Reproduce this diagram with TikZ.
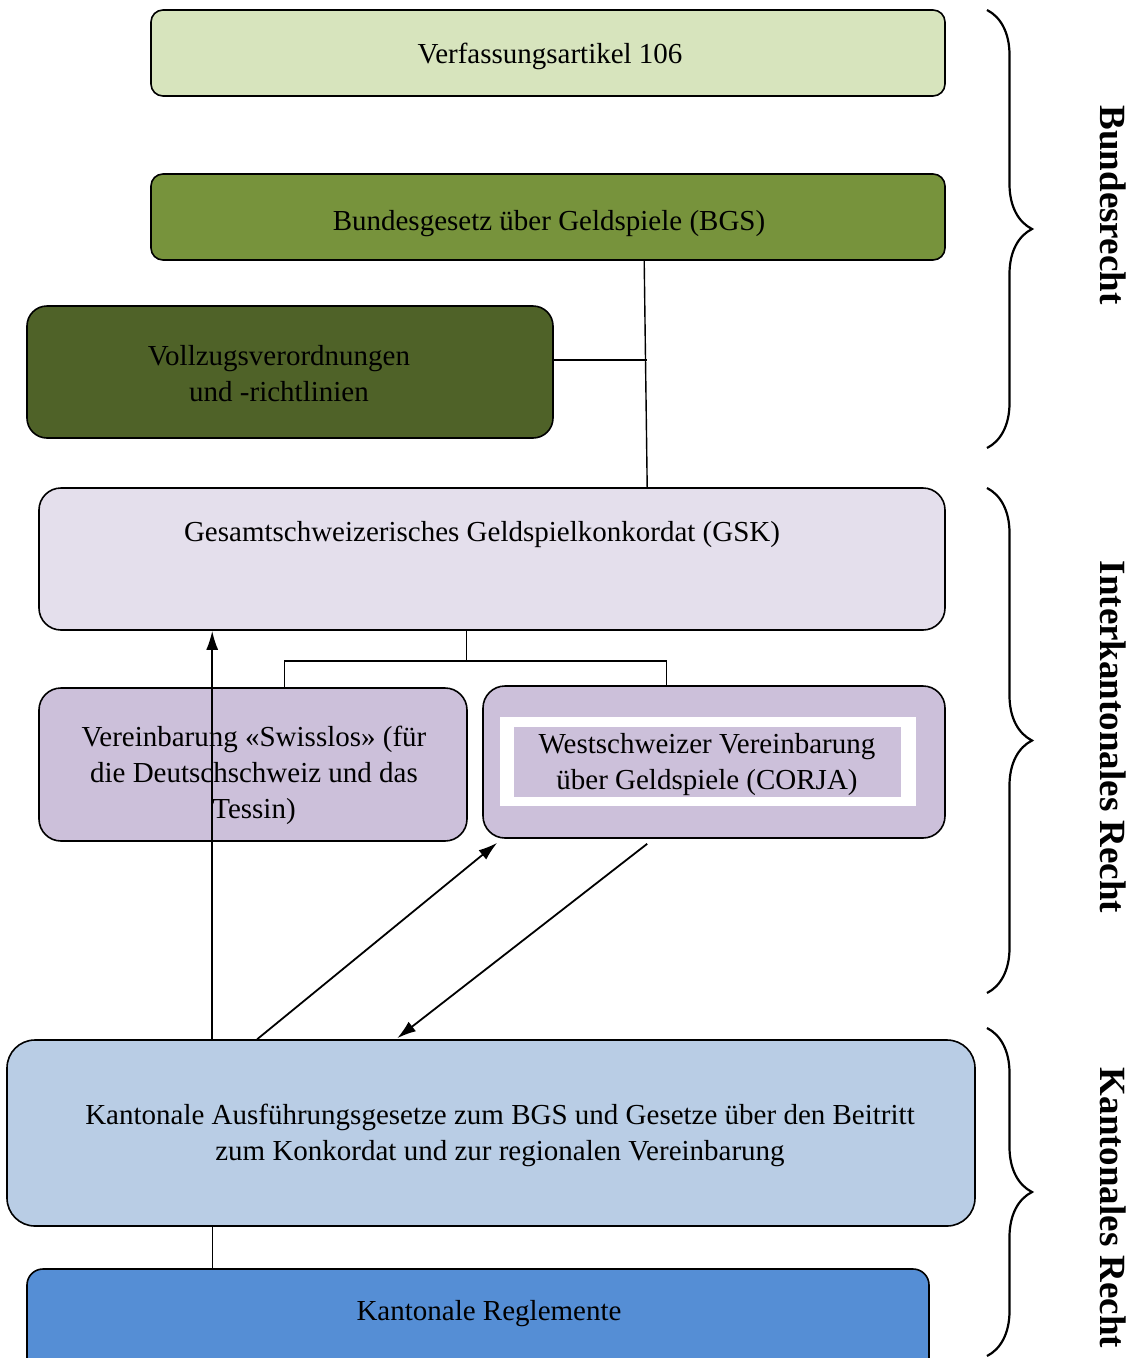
\documentclass[tikz,border=0pt]{standalone}
\usepackage{fontspec}
\setmainfont{Liberation Serif}
\usetikzlibrary{arrows.meta,decorations.pathreplacing,calc}
\definecolor{cVerf}{HTML}{D7E4BD}
\definecolor{cBGS}{HTML}{77933C}
\definecolor{cVoll}{HTML}{4F6228}
\definecolor{cGSK}{HTML}{E4DFEC}
\definecolor{cPurp}{HTML}{CCC0DA}
\definecolor{cKant}{HTML}{B9CDE5}
\definecolor{cRegl}{HTML}{558ED5}
\begin{document}
\begin{tikzpicture}[x=1pt,y=-1pt,
  box/.style={draw=black,line width=1.6pt,rectangle,inner sep=0pt},
  txt/.style={font=\fontsize{29}{36}\selectfont,align=center,inner sep=0pt,text=black,yshift=-3pt},
  side/.style={font=\fontsize{37}{40}\selectfont\bfseries,rotate=-90,inner sep=0pt},
  conn/.style={draw=black,line width=1.4pt},
  arr/.style={draw=black,line width=1.8pt,-{Latex[length=19pt,width=12pt]}},
  bracestyle/.style={draw=black,line width=2.2pt,decorate,decoration={brace,amplitude=45pt}}]
\useasboundingbox (0,0) rectangle (1136,1358);
\clip (0,0) rectangle (1136,1358);
% boxes
\node[box,fill=cVerf,rounded corners=12pt,minimum width=794pt,minimum height=86pt] (verf) at (548,53) {};
\node[box,fill=cBGS,rounded corners=12pt,minimum width=794pt,minimum height=86pt] (bgs) at (548,217) {};
\node[box,fill=cVoll,rounded corners=20pt,minimum width=526pt,minimum height=132pt] (voll) at (290,372) {};
\node[box,fill=cGSK,rounded corners=22pt,minimum width=906pt,minimum height=142pt] (gsk) at (492,559) {};
\node[box,fill=cPurp,rounded corners=22pt,minimum width=428pt,minimum height=153pt] (swiss) at (253,764.5) {};
\node[box,fill=cPurp,rounded corners=22pt,minimum width=462pt,minimum height=152pt] (corja) at (714,762) {};
\node[fill=white,inner sep=0pt,minimum width=416pt,minimum height=89pt] (corjaw) at (708,761.5) {};
\node[fill=cPurp,inner sep=0pt,minimum width=387pt,minimum height=70pt] (corjai) at (707.5,762) {};
\node[box,fill=cKant,rounded corners=28pt,minimum width=968pt,minimum height=186pt] (kant) at (491,1133) {};
\node[box,fill=cRegl,rounded corners=16pt,minimum width=902pt,minimum height=120pt] (regl) at (478,1329) {};
% texts
\node[txt] (tverf) at (550,53) {Verfassungsartikel 106};
\node[txt] (tbgs) at (549,221) {Bundesgesetz über Geldspiele (BGS)};
\node[txt] (tvoll) at (279,371) {Vollzugsverordnungen\\und -richtlinien};
\node[txt] (tgsk) at (482,532) {Gesamtschweizerisches Geldspielkonkordat (GSK)};
\node[txt] (tswiss) at (254,772) {Vereinbarung «Swisslos» (für\\die Deutschschweiz und das\\Tessin)};
\node[txt] (tcorja) at (707,762) {Westschweizer Vereinbarung\\über Geldspiele (CORJA)};
\node[txt] (tkant) at (500,1132) {Kantonale Ausführungsgesetze zum BGS und Gesetze über den Beitritt\\zum Konkordat und zur regionalen Vereinbarung};
\node[txt] (tregl) at (489,1311) {Kantonale Reglemente};
% side labels
\node[side] (lbund) at (1113,205) {Bundesrecht};
\node[side] (linter) at (1113,737) {Interkantonales Recht};
\node[side] (lkant) at (1113,1208) {Kantonales Recht};
% braces
\coordinate (b1a) at (987,10);
\coordinate (b1b) at (987,448);
\coordinate (b2a) at (987,488);
\coordinate (b2b) at (987,993);
\coordinate (b3a) at (987,1028);
\coordinate (b3b) at (987,1356);
\draw[bracestyle] (b1a) -- (b1b);
\draw[bracestyle] (b2a) -- (b2b);
\draw[bracestyle] (b3a) -- (b3b);
% connectors
\draw[conn] ([xshift=494pt]bgs.south west) -- ([xshift=609pt]gsk.north west);
\draw[conn] ([yshift=12pt]voll.east) -- ([yshift=12pt,xshift=93pt]voll.east);
\draw[conn] ([xshift=428pt]gsk.south west) -- ++(0,30) -| ([xshift=246pt]swiss.north west);
\draw[conn] ([xshift=428pt,yshift=-30pt]gsk.south west) -| ([xshift=184pt]corja.north west);
\draw[arr] ([xshift=206pt]kant.north west) -- ([xshift=174pt]gsk.south west);
\draw[arr] ([xshift=251pt]kant.north west) -- ([xshift=15pt,yshift=-4pt]corja.south west);
\draw[arr] ([xshift=165pt,yshift=-5pt]corja.south west) -- ([xshift=391pt,yshift=1pt]kant.north west);
\draw[conn] ([xshift=206pt]kant.south west) -- ([xshift=186pt]regl.north west);
\end{tikzpicture}
\end{document}
